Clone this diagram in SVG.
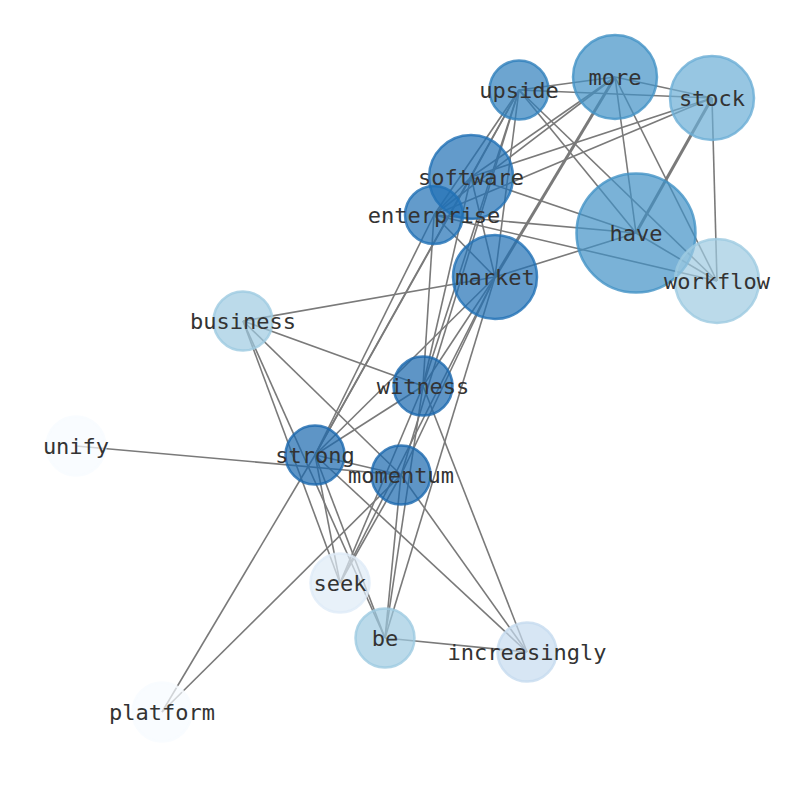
<svg xmlns="http://www.w3.org/2000/svg" width="794" height="790" viewBox="0 0 794 790">
<style>
.e{stroke:#7a7a7a;stroke-width:1.6;fill:none}
.t{stroke-width:3}
circle{fill-opacity:0.7;stroke-opacity:0.8;stroke-width:2.5}
text{font-family:"DejaVu Sans Mono","Liberation Mono",monospace;font-size:22px;fill:#333;text-anchor:middle;dominant-baseline:central}
.c0{fill:#f7fbff;stroke:#f7fbff}
.c1{fill:#deebf7;stroke:#deebf7}
.c2{fill:#c6dbef;stroke:#c6dbef}
.c3{fill:#9ecae1;stroke:#9ecae1}
.c4{fill:#6baed6;stroke:#6baed6}
.c5{fill:#4292c6;stroke:#4292c6}
.c55{fill:#2f7fbc;stroke:#2f7fbc}
.c6{fill:#2171b5;stroke:#2171b5}
.c7{fill:#1a68ae;stroke:#1a68ae}
</style>
<rect width="794" height="790" fill="#fff"/>
<g id="edges">
<line class="e" x1="519" y1="90" x2="615" y2="77"/>
<line class="e" x1="519" y1="90" x2="712" y2="98"/>
<line class="e" x1="519" y1="90" x2="636" y2="233"/>
<line class="e" x1="519" y1="90" x2="717" y2="281"/>
<line class="e" x1="519" y1="90" x2="471" y2="177"/>
<line class="e" x1="519" y1="90" x2="434" y2="215"/>
<line class="e" x1="519" y1="90" x2="495" y2="277"/>
<line class="e" x1="519" y1="90" x2="423" y2="386"/>
<line class="e" x1="519" y1="90" x2="315" y2="455"/>
<line class="e" x1="519" y1="90" x2="401" y2="475"/>
<line class="e" x1="615" y1="77" x2="712" y2="98"/>
<line class="e" x1="615" y1="77" x2="636" y2="233"/>
<line class="e" x1="615" y1="77" x2="717" y2="281"/>
<line class="e" x1="615" y1="77" x2="471" y2="177"/>
<line class="e" x1="615" y1="77" x2="434" y2="215"/>
<line class="e t" x1="615" y1="77" x2="495" y2="277"/>
<line class="e t" x1="712" y1="98" x2="636" y2="233"/>
<line class="e" x1="712" y1="98" x2="717" y2="281"/>
<line class="e" x1="712" y1="98" x2="471" y2="177"/>
<line class="e" x1="712" y1="98" x2="434" y2="215"/>
<line class="e" x1="471" y1="177" x2="636" y2="233"/>
<line class="e" x1="471" y1="177" x2="495" y2="277"/>
<line class="e" x1="471" y1="177" x2="434" y2="215"/>
<line class="e" x1="471" y1="177" x2="423" y2="386"/>
<line class="e" x1="471" y1="177" x2="315" y2="455"/>
<line class="e" x1="434" y1="215" x2="636" y2="233"/>
<line class="e" x1="434" y1="215" x2="717" y2="281"/>
<line class="e" x1="434" y1="215" x2="495" y2="277"/>
<line class="e" x1="434" y1="215" x2="423" y2="386"/>
<line class="e" x1="434" y1="215" x2="315" y2="455"/>
<line class="e" x1="636" y1="233" x2="717" y2="281"/>
<line class="e" x1="636" y1="233" x2="495" y2="277"/>
<line class="e" x1="495" y1="277" x2="243" y2="321"/>
<line class="e" x1="495" y1="277" x2="423" y2="386"/>
<line class="e" x1="495" y1="277" x2="315" y2="455"/>
<line class="e" x1="495" y1="277" x2="401" y2="475"/>
<line class="e" x1="495" y1="277" x2="340" y2="583"/>
<line class="e" x1="495" y1="277" x2="385" y2="638"/>
<line class="e" x1="243" y1="321" x2="423" y2="386"/>
<line class="e" x1="243" y1="321" x2="401" y2="475"/>
<line class="e" x1="243" y1="321" x2="340" y2="583"/>
<line class="e" x1="243" y1="321" x2="385" y2="638"/>
<line class="e" x1="423" y1="386" x2="315" y2="455"/>
<line class="e" x1="423" y1="386" x2="340" y2="583"/>
<line class="e" x1="423" y1="386" x2="385" y2="638"/>
<line class="e" x1="423" y1="386" x2="527" y2="652"/>
<line class="e" x1="76" y1="446" x2="401" y2="475"/>
<line class="e" x1="315" y1="455" x2="401" y2="475"/>
<line class="e" x1="315" y1="455" x2="340" y2="583"/>
<line class="e" x1="315" y1="455" x2="385" y2="638"/>
<line class="e" x1="315" y1="455" x2="527" y2="652"/>
<line class="e" x1="315" y1="455" x2="162" y2="712"/>
<line class="e" x1="401" y1="475" x2="340" y2="583"/>
<line class="e" x1="401" y1="475" x2="385" y2="638"/>
<line class="e" x1="401" y1="475" x2="527" y2="652"/>
<line class="e" x1="401" y1="475" x2="162" y2="712"/>
<line class="e" x1="385" y1="638" x2="527" y2="652"/>
</g>
<g id="n-upside"><circle class="c55" cx="519" cy="90" r="29.5"/><text x="519" y="90">upside</text></g>
<g id="n-more"><circle class="c5" cx="615" cy="77" r="42"/><text x="615" y="77">more</text></g>
<g id="n-stock"><circle class="c4" cx="712" cy="98" r="42"/><text x="712" y="98">stock</text></g>
<g id="n-software"><circle class="c6" cx="471" cy="177" r="42"/><text x="471" y="177">software</text></g>
<g id="n-enterprise"><circle class="c6" cx="434" cy="215" r="29"/><text x="434" y="215">enterprise</text></g>
<g id="n-have"><circle class="c5" cx="636" cy="233" r="59.5"/><text x="636" y="233">have</text></g>
<g id="n-market"><circle class="c6" cx="495" cy="277" r="42"/><text x="495" y="277">market</text></g>
<g id="n-workflow"><circle class="c3" cx="717" cy="281" r="42"/><text x="717" y="281">workflow</text></g>
<g id="n-business"><circle class="c3" cx="243" cy="321" r="29.5"/><text x="243" y="321">business</text></g>
<g id="n-witness"><circle class="c7" cx="423" cy="386" r="29.5"/><text x="423" y="386">witness</text></g>
<g id="n-unify"><circle class="c0" cx="76" cy="446" r="29.5"/><text x="76" y="446">unify</text></g>
<g id="n-strong"><circle class="c7" cx="315" cy="455" r="29.5"/><text x="315" y="455">strong</text></g>
<g id="n-momentum"><circle class="c7" cx="401" cy="475" r="29.5"/><text x="401" y="475">momentum</text></g>
<g id="n-seek"><circle class="c1" cx="340" cy="583" r="29.5"/><text x="340" y="583">seek</text></g>
<g id="n-be"><circle class="c3" cx="385" cy="638" r="29.5"/><text x="385" y="638">be</text></g>
<g id="n-increasingly"><circle class="c2" cx="527" cy="652" r="29.5"/><text x="527" y="652">increasingly</text></g>
<g id="n-platform"><circle class="c0" cx="162" cy="712" r="29.5"/><text x="162" y="712">platform</text></g>
</svg>
